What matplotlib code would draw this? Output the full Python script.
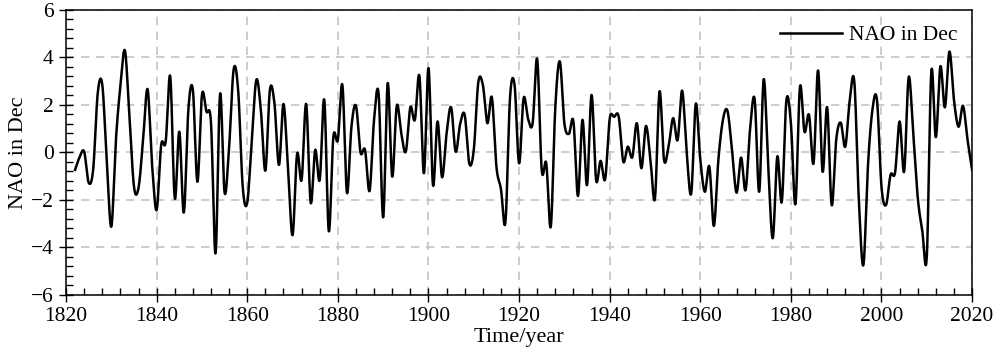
import numpy as np
import matplotlib
matplotlib.use("Agg")
import matplotlib.pyplot as plt
from matplotlib.ticker import MultipleLocator

plt.rcParams['font.family'] = ['Liberation Serif', 'DejaVu Serif']

# December NAO index, one value per year
years = np.arange(1822, 2021)
nao = [
    -0.74, -0.2, 0.03, -1.28, -0.7, 2.5, 2.85, -0.4, -3.13, 0.5,        # 1822-1831
    2.8, 4.29, 1.5, -1.45, -1.5, 0.5, 2.66, -0.55, -2.43, 0.31,         # 1832-1841
    0.45, 3.2, -1.93, 0.87, -2.54, 1.79, 2.63, -1.24, 2.42, 1.72,       # 1842-1851
    1.23, -4.26, 2.46, -1.7, 0.24, 3.5, 2.6, -1.45, -2.12, 0.52,        # 1852-1861
    3.05, 1.8, -0.77, 2.63, 2.07, -0.53, 2.04, -0.7, -3.49, -0.07,      # 1862-1871
    -1.16, 2.04, -2.12, 0.1, -1.16, 2.21, -3.32, 0.64, 0.53, 2.84,      # 1872-1881
    -1.7, 1.08, 1.96, 0.0, 0.1, -1.62, 1.4, 2.46, -2.74, 2.91,          # 1882-1891
    -1.02, 1.96, 0.8, 0.03, 1.9, 1.37, 3.22, -0.88, 3.55, -1.38,        # 1892-1901
    1.3, -1.05, 0.8, 1.9, 0.03, 1.2, 1.58, -0.46, 0.1, 2.95,            # 1902-1911
    2.85, 1.23, 2.31, -0.6, -1.55, -2.92, 2.3, 2.85, -0.46, 2.28,       # 1912-1921
    1.4, 1.23, 3.93, -0.74, -0.46, -3.13, 1.9, 3.83, 1.23, 0.78,        # 1922-1931
    1.3, -1.84, 1.37, -1.38, 2.42, -1.16, -0.36, -1.13, 1.4, 1.5,       # 1932-1941
    1.5, -0.39, 0.24, -0.2, 1.23, -0.67, 1.11, -0.3, -1.94, 2.56,       # 1942-1951
    -0.32, 0.24, 1.44, 0.52, 2.6, 0.0, -1.73, 2.04, -0.3, -1.66,        # 1952-1961
    -0.6, -3.1, -0.3, 1.37, 1.75, 0.1, -1.7, -0.22, -1.59, 1.0,         # 1962-1971
    2.24, -1.66, 3.08, -0.6, -3.62, -0.18, -2.08, 2.18, 1.23, -2.18,    # 1972-1981
    2.75, 0.87, 1.58, -0.46, 3.45, -0.81, 1.9, -2.22, 0.52, 1.25,       # 1982-1991
    0.24, 2.2, 2.98, -2.0, -4.75, -0.6, 1.8, 2.21, -1.45, -2.22,        # 1992-2001
    -0.95, -0.85, 1.3, -0.81, 3.17, 0.8, -1.9, -3.3, -4.4, 3.4,         # 2002-2011
    0.64, 3.62, 1.9, 4.25, 2.2, 1.08, 1.96, 0.52, -0.74,                # 2012-2020
]


def smooth_line(x, y, steps=20):
    # Catmull-Rom curve through the yearly points (like a "smoothed line" chart)
    x = np.asarray(x, float)
    y = np.asarray(y, float)
    px = np.concatenate([[2 * x[0] - x[1]], x, [2 * x[-1] - x[-2]]])
    py = np.concatenate([[2 * y[0] - y[1]], y, [2 * y[-1] - y[-2]]])
    t = np.linspace(0, 1, steps, endpoint=False)
    outx, outy = [], []
    for i in range(1, len(px) - 2):
        for p, out in ((px, outx), (py, outy)):
            p0, p1, p2, p3 = p[i - 1], p[i], p[i + 1], p[i + 2]
            out.append(0.5 * (2 * p1 + (-p0 + p2) * t
                              + (2 * p0 - 5 * p1 + 4 * p2 - p3) * t**2
                              + (-p0 + 3 * p1 - 3 * p2 + p3) * t**3))
    outx.append([x[-1]])
    outy.append([y[-1]])
    return np.concatenate(outx), np.concatenate(outy)


xs, ys = smooth_line(years, nao)

fig = plt.figure(figsize=(9.96, 3.61), dpi=100)
ax = fig.add_axes([0.0663, 0.1837, 0.9097, 0.7886])

ax.plot(xs, ys, color='black', lw=1.8, label='NAO in Dec', zorder=3)

ax.set_xlim(1820, 2020)
ax.set_ylim(-6, 6)
ax.xaxis.set_major_locator(MultipleLocator(20))
ax.xaxis.set_minor_locator(MultipleLocator(4))
ax.yaxis.set_major_locator(MultipleLocator(2))
ax.yaxis.set_minor_locator(MultipleLocator(0.4))
ax.tick_params(which='major', direction='inout', length=10, width=1, labelsize=15.5,
               top=False, right=False, pad=4)
ax.tick_params(which='minor', direction='in', length=5, width=1, top=False, right=False)
ax.grid(True, which='major', color='#c4c4c4', linestyle=(0, (5, 4)), lw=1.2)
for s in ax.spines.values():
    s.set_linewidth(1.1)

ax.set_xlabel('Time/year', fontsize=16, labelpad=1)
ax.set_ylabel('NAO in Dec', fontsize=16, labelpad=2)
ax.legend(loc='upper right', frameon=False, fontsize=15.5, handlelength=2.9,
          handletextpad=0.3, borderaxespad=0.3)

fig.savefig('out.png', dpi=100)
